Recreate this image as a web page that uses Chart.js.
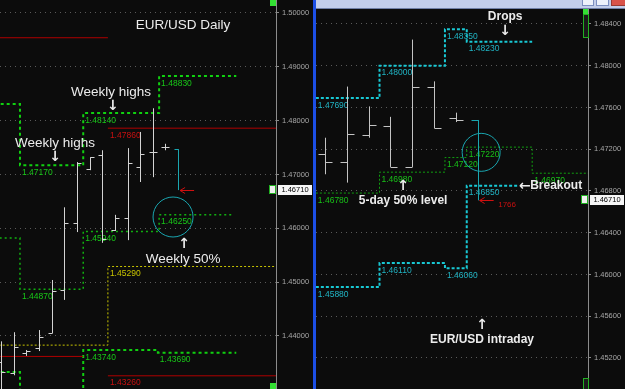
<!DOCTYPE html>
<html>
<head>
<meta charset="utf-8">
<script src="https://cdn.jsdelivr.net/npm/chart.js@4.4.1/dist/chart.umd.min.js"></script>
<style>
  html, body { margin: 0; padding: 0; background: #0c0c0c; }
  body { width: 625px; height: 389px; position: relative; overflow: hidden; }
  canvas { position: absolute; }
  #daily { left: 0; top: 0; }
  #intra { left: 316px; top: 9px; }
  .blk { position: absolute; }
</style>
</head>
<body>
<canvas id="daily" width="313" height="389"></canvas>
<div class="blk" style="left:313px;top:0;width:3px;height:389px;background:#1c4fe6"></div>
<div class="blk" style="left:316px;top:0;width:309px;height:8px;background:#c2cdea;border-bottom:1px solid #6f7fa6"></div>
<div class="blk" style="left:582px;top:0;width:10px;height:5px;background:#eef2fb;border:1px solid #7d8fc0;border-top:0"></div>
<div class="blk" style="left:596px;top:0;width:11px;height:5px;background:#eef2fb;border:1px solid #7d8fc0;border-top:0"></div>
<div class="blk" style="left:611px;top:0;width:14px;height:5px;background:#d9534a;border:1px solid #9a3a34;border-top:0"></div>
<canvas id="intra" width="309" height="380"></canvas>
<div class="blk" style="left:270px;top:0;width:6px;height:6px;background:#33e033"></div>
<div class="blk" style="left:270px;top:383px;width:6px;height:6px;background:#33e033"></div>
<div class="blk" style="left:583px;top:9px;width:5px;height:5px;background:#33e033"></div>
<div class="blk" style="left:583px;top:14px;width:4px;height:22px;border:1px solid #22b022;background:#1a1a1a"></div>
<div class="blk" style="left:583px;top:378px;width:4px;height:10px;border:1px solid #22b022;background:#1a1a1a"></div>
<script>
// EUR/USD daily bars, index 0 = leftmost day on screen
const dailyOpen  = [1.4352, 1.4331, 1.4368, 1.4377, 1.4405, 1.4485, 1.4610, 1.4710, 1.4736, 1.4597, 1.4619, 1.4714, 1.4742, 1.4751, 1.4747];
const dailyHigh  = [1.4390, 1.4407, 1.4374, 1.4411, 1.4504, 1.4639, 1.4723, 1.4732, 1.4745, 1.4625, 1.4749, 1.4779, 1.4823, 1.4757, 1.4747];
const dailyLow   = [1.4250, 1.4327, 1.4363, 1.4372, 1.4405, 1.4467, 1.4593, 1.4708, 1.4573, 1.4595, 1.4578, 1.4686, 1.4695, 1.4745, 1.4671];
const dailyClose = [1.4333, 1.4379, 1.4372, 1.4398, 1.4483, 1.4610, 1.4721, 1.4732, 1.4580, 1.4619, 1.4721, 1.4738, 1.4742, 1.4751, null];

// weekly levels (x = bar index where each step starts, last entry = end)
const weekHighX = [-0.5, 1.5, 6.5, 12.5, 18.6];
const weekHigh  = [1.4831, 1.4717, 1.4814, 1.4883];
const weekMidX  = [-0.5, 1.5, 6.5, 12.5, 18.2];
const weekMid   = [1.4582, 1.4487, 1.4594, 1.4625];
const weekLowX  = [-0.5, 1.5, 6.5, 12.4, 18.6];
const weekLow   = [1.4333, 1.4250, 1.4374, 1.4369];

// monthly levels
const monthHighX = [-0.5, 8.45, 22];
const monthHigh  = [1.4954, 1.4786];
const monthLowX  = [-0.5, 6.5, 8.45, 22];
const monthLow   = [1.4362, null, 1.4326];
const monthMidX  = [-0.5, 8.45, 22];
const monthMid   = [1.4383, 1.4529];

// EUR/USD intraday bars
const intraOpen  = [1.4715, 1.4708, 1.4734, 1.4742, 1.4703, 1.4780, 1.4750, 1.4748];
const intraHigh  = [1.4731, 1.4780, 1.4761, 1.4751, 1.4825, 1.4785, 1.4755, 1.4748];
const intraLow   = [1.4696, 1.4688, 1.4731, 1.4703, 1.4703, 1.4740, 1.4746, 1.4671];
const intraClose = [1.4708, 1.4735, 1.4743, 1.4703, 1.4780, 1.4740, 1.4748, null];

// 5-day levels
const dayHighX = [-0.42, 2.5, 5.5, 6.5, 9.5];
const dayHigh  = [1.4769, 1.4800, 1.4835, 1.4823];
const dayLowX  = [-0.42, 2.5, 5.5, 6.5, 8.85];
const dayLow   = [1.4588, 1.4611, 1.4606, 1.4685];
const dayMidX  = [-0.42, 2.5, 5.5, 6.5, 9.5, 12.1];
const dayMid   = [1.4678, 1.4698, 1.4712, 1.4722, 1.4697];

const lastPrice = 1.4671;
const dailyTicks = 0.01;
const intraTicks = 0.004;

// joined steps
function steps(xs, vals) {
  const pts = vals.map((v, i) => ({ x: xs[i], y: v }));
  pts.push({ x: xs[xs.length - 1], y: vals[vals.length - 1] });
  return pts;
}
// separate flat pieces, null = nothing
function pieces(xs, vals) {
  const pts = [];
  vals.forEach((v, i) => pts.push({ x: xs[i], y: v }, { x: xs[i + 1], y: v }, { x: xs[i + 1], y: null }));
  return pts;
}
function level(data, color, width, dash, labelColor) {
  return { data, borderColor: color, borderWidth: width, borderDash: dash, stepped: 'before',
           pointRadius: 0, fill: false, spanGaps: false, labelColor };
}

const FONT = '"Liberation Sans", "DejaVu Sans", Arial, sans-serif';
const ARROW = 'bold 14px "DejaVu Sans", sans-serif';

const levelsAndBars = {
  id: 'levelsAndBars',
  afterDatasetsDraw(chart, args, o) {
    const { ctx, chartArea: a, scales: { x, y } } = chart;
    ctx.save();
    ctx.beginPath();
    ctx.rect(a.left, a.top, a.width, a.height);
    ctx.clip();

    // value under each step
    ctx.font = '8.5px ' + FONT;
    ctx.textBaseline = 'top';
    ctx.textAlign = 'left';
    chart.data.datasets.forEach(ds => {
      if (!ds.labelColor) return;
      ds.data.forEach((p, j) => {
        if (p.y === null || (j > 0 && ds.data[j - 1].y === p.y)) return;
        const px = x.getPixelForValue(p.x), py = y.getPixelForValue(p.y);
        if (px < a.left - 1 || py < a.top || py > a.bottom) return;
        ctx.fillStyle = ds.labelColor;
        ctx.fillText(p.y.toFixed(5), px + 2, py + 3);
      });
    });

    // OHLC bars
    ctx.lineWidth = 1;
    o.open.forEach((op, i) => {
      const last = i === o.open.length - 1;
      ctx.strokeStyle = last ? o.lastColor : o.color;
      const px = Math.round(x.getPixelForValue(i)) + 0.5;
      ctx.beginPath();
      ctx.moveTo(px, y.getPixelForValue(o.high[i]));
      ctx.lineTo(px, y.getPixelForValue(o.low[i]));
      const oy = Math.round(y.getPixelForValue(op)) + 0.5;
      ctx.moveTo(px - o.tick, oy);
      ctx.lineTo(px, oy);
      if (o.close[i] !== null) {
        const cy = Math.round(y.getPixelForValue(o.close[i])) + 0.5;
        ctx.moveTo(px, cy);
        ctx.lineTo(px + o.tick, cy);
      }
      ctx.stroke();
    });

    // red arrow at the last bar
    const n = o.open.length - 1;
    const ax = x.getPixelForValue(n) + 2, ay = Math.round(y.getPixelForValue(o.low[n])) + 0.5;
    ctx.strokeStyle = '#d01010';
    ctx.beginPath();
    ctx.moveTo(ax + 14, ay); ctx.lineTo(ax, ay);
    ctx.moveTo(ax + 5, ay - 3); ctx.lineTo(ax, ay); ctx.lineTo(ax + 5, ay + 3);
    ctx.stroke();

    // circle
    ctx.strokeStyle = '#1aa6b0';
    ctx.beginPath();
    ctx.arc(x.getPixelForValue(o.circle[0]), y.getPixelForValue(o.circle[1]), o.circle[2], 0, Math.PI * 2);
    ctx.stroke();

    // notes
    ctx.textAlign = 'center';
    ctx.textBaseline = 'middle';
    o.notes.forEach(t => {
      ctx.font = t.font || o.noteFont;
      ctx.fillStyle = t.color || '#ececec';
      ctx.fillText(t.text, x.getPixelForValue(t.x), y.getPixelForValue(t.y));
    });
    ctx.restore();

    // last price box on the axis
    const py = Math.round(y.getPixelForValue(o.price));
    ctx.save();
    ctx.fillStyle = '#f6f6f6';
    ctx.fillRect(a.right + 2, py - 5, chart.width - a.right - 3, 10);
    ctx.fillStyle = '#000';
    ctx.font = '7.5px ' + FONT;
    ctx.textAlign = 'center';
    ctx.textBaseline = 'middle';
    ctx.fillText(o.price.toFixed(5), a.right + 2 + (chart.width - a.right - 3) / 2, py);
    ctx.fillStyle = '#f0f0f0';
    ctx.fillRect(a.right - 6, py - 4, 5, 7);
    ctx.strokeStyle = '#20b020';
    ctx.strokeRect(a.right - 6.5, py - 4.5, 6, 8);
    ctx.restore();
  }
};

function yAxis(min, max, step) {
  return {
    position: 'right', min, max,
    afterFit(s) { s.width = 37; s.paddingTop = 0; s.paddingBottom = 0; },
    ticks: { stepSize: step, includeBounds: false, color: '#a8a8a8', padding: 3,
             font: { size: 7.5, family: FONT }, callback: v => v.toFixed(5) },
    grid: { color: '#5a5a5a', tickLength: 3, tickColor: '#8a8a8a' },
    border: { color: '#8c8c8c', dash: [1, 4] }
  };
}

new Chart(document.getElementById('daily'), {
  type: 'line',
  data: {
    datasets: [
      level(pieces(monthHighX, monthHigh), '#b00000', 1, [], '#c81010'),
      level(pieces(monthLowX, monthLow), '#b00000', 1, [], '#c81010'),
      level(steps(monthMidX, monthMid), '#c8c400', 1, [2, 2], '#c8c400'),
      level(steps(weekHighX, weekHigh), '#10d010', 2, [3, 3], '#18c818'),
      level(steps(weekMidX, weekMid), '#10b010', 1.5, [2, 3], '#18c818'),
      level(steps(weekLowX, weekLow), '#10d010', 2, [3, 3], '#18c818')
    ]
  },
  options: {
    responsive: false, animation: false, devicePixelRatio: 1,
    layout: { padding: 0 },
    scales: {
      x: { type: 'linear', display: false, min: -0.08, max: 21.74 },
      y: yAxis(1.43015, 1.50241, dailyTicks)
    },
    plugins: {
      legend: { display: false }, tooltip: { enabled: false },
      levelsAndBars: {
        open: dailyOpen, high: dailyHigh, low: dailyLow, close: dailyClose,
        color: '#d4d4d4', lastColor: '#1aa6b0', tick: 4, price: lastPrice,
        circle: [13.6, 1.4621, 20],
        noteFont: '13.5px ' + FONT,
        notes: [
          { x: 14.39, y: 1.4978, text: 'EUR/USD Daily' },
          { x: 8.7, y: 1.4853, text: 'Weekly highs' },
          { x: 8.85, y: 1.4826, text: '↓', font: ARROW },
          { x: 4.27, y: 1.4758, text: 'Weekly highs' },
          { x: 4.27, y: 1.4731, text: '↓', font: ARROW },
          { x: 14.47, y: 1.4570, text: '↑', font: ARROW },
          { x: 14.39, y: 1.4543, text: 'Weekly 50%' }
        ]
      }
    }
  },
  plugins: [levelsAndBars]
});

new Chart(document.getElementById('intra'), {
  type: 'line',
  data: {
    datasets: [
      level(steps(dayMidX, dayMid), '#10a010', 1, [2, 2], '#18c018'),
      level(steps(dayHighX, dayHigh), '#18c8d4', 2, [3, 2], '#20b4c4'),
      level(steps(dayLowX, dayLow), '#18c8d4', 2, [3, 2], '#20b4c4')
    ]
  },
  options: {
    responsive: false, animation: false, devicePixelRatio: 1,
    layout: { padding: 0 },
    scales: {
      x: { type: 'linear', display: false, min: -0.413, max: 12.06 },
      y: yAxis(1.44903, 1.48543, intraTicks)
    },
    plugins: {
      legend: { display: false }, tooltip: { enabled: false },
      levelsAndBars: {
        open: intraOpen, high: intraHigh, low: intraLow, close: intraClose,
        color: '#c4c4c4', lastColor: '#1aa6b0', tick: 7, price: lastPrice,
        circle: [7.16, 1.4717, 19],
        noteFont: 'bold 12px ' + FONT,
        notes: [
          { x: 8.26, y: 1.48466, text: 'Drops' },
          { x: 8.26, y: 1.48330, text: '↓', font: ARROW },
          { x: 3.58, y: 1.46840, text: '↑', font: ARROW },
          { x: 3.58, y: 1.46704, text: '5-day 50% level' },
          { x: 9.17, y: 1.46848, text: '←', font: ARROW },
          { x: 10.6, y: 1.46848, text: 'Breakout' },
          { x: 7.2, y: 1.45508, text: '↑', font: ARROW },
          { x: 7.2, y: 1.45373, text: 'EUR/USD intraday' },
          { x: 8.35, y: 1.46666, text: '1766', font: '8px ' + FONT, color: '#c81010' }
        ]
      }
    }
  },
  plugins: [levelsAndBars]
});
</script>
</body>
</html>
